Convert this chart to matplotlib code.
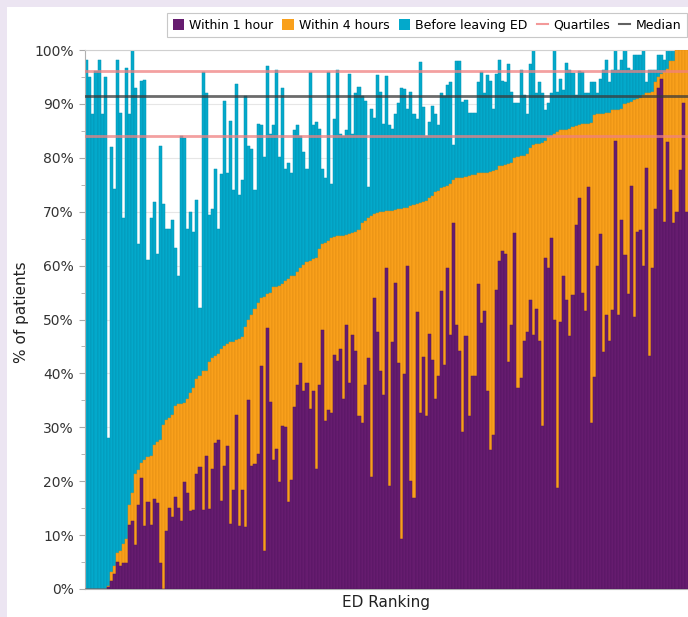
import numpy as np
import matplotlib
matplotlib.use("Agg")
import matplotlib.pyplot as plt
from matplotlib.patches import Patch
from matplotlib.lines import Line2D

# % of patients seen before leaving ED (total bar height)
before_leaving = [
    98.2, 94.9, 88.1, 96.1, 98.2, 88.1, 95.0, 28.0, 82.0, 74.2,
    98.2, 88.4, 68.9, 96.6, 88.1, 100.0, 92.9, 64.1, 94.3, 94.5,
    61.0, 68.8, 71.8, 62.1, 82.1, 71.5, 66.8, 66.8, 68.4, 63.2,
    58.1, 84.0, 83.7, 66.8, 70.0, 66.2, 72.2, 52.1, 96.0, 92.0,
    69.4, 70.5, 78.0, 66.8, 77.0, 90.5, 77.2, 86.8, 74.1, 93.7,
    73.1, 75.9, 91.5, 82.1, 81.7, 74.1, 86.3, 86.0, 80.2, 97.1,
    84.4, 86.0, 96.2, 80.2, 93.0, 78.0, 79.0, 77.1, 85.1, 86.0,
    84.0, 81.1, 78.0, 96.0, 86.0, 86.7, 85.4, 78.0, 76.3, 96.0,
    75.1, 87.2, 96.2, 84.5, 84.0, 85.2, 95.5, 84.5, 92.0, 93.2,
    91.4, 90.5, 74.6, 89.1, 87.4, 95.4, 92.2, 86.3, 95.2, 86.0,
    85.3, 88.1, 90.1, 93.0, 92.7, 89.1, 92.2, 88.1, 87.2, 97.8,
    89.4, 84.1, 86.6, 89.6, 88.1, 86.0, 92.0, 91.5, 93.5, 94.1,
    82.3, 98.0, 98.0, 90.3, 90.7, 88.3, 88.3, 88.3, 94.0, 96.0,
    92.0, 95.4, 94.2, 89.1, 95.6, 98.1, 94.3, 94.0, 97.4, 92.2,
    90.1, 90.1, 96.2, 91.6, 88.1, 97.4, 100.0, 92.0, 94.1, 92.0,
    88.9, 90.1, 92.0, 100.0, 92.2, 94.7, 92.6, 97.6, 96.3, 95.8,
    91.7, 96.1, 96.0, 92.0, 92.0, 94.0, 94.0, 92.0, 94.7, 96.2,
    98.1, 94.1, 96.2, 100.0, 96.2, 98.1, 100.0, 96.7, 96.2, 99.1,
    99.1, 99.1, 100.0, 94.1, 96.2, 96.2, 96.2, 99.1, 99.1, 98.1,
    100.0, 100.0, 100.0, 100.0, 100.0, 100.0, 100.0,
]

# % of patients seen within 4 hours (ranking variable)
within_4h = [
    0, 0, 0, 0, 0, 0, 0, 0.5, 3.1, 4.3,
    6.7, 7.1, 8.3, 9.3, 15.5, 17.9, 21.4, 22.0, 23.3, 23.9,
    24.4, 24.7, 26.7, 27.2, 27.7, 30.4, 31.4, 31.7, 32.3, 34.0,
    34.3, 34.4, 34.5, 35.3, 36.4, 37.3, 38.9, 39.6, 40.4, 40.4,
    42.2, 42.8, 43.2, 43.6, 44.5, 45.0, 45.4, 45.8, 45.9, 46.2,
    46.4, 46.7, 48.7, 49.9, 50.8, 52.0, 53.1, 53.9, 54.2, 54.8,
    54.9, 56.0, 56.0, 56.2, 56.6, 57.2, 57.6, 58.1, 58.1, 58.8,
    59.5, 60.2, 60.6, 60.8, 61.3, 61.4, 63.0, 64.0, 64.2, 64.5,
    65.2, 65.3, 65.4, 65.4, 65.5, 65.6, 65.8, 66.0, 66.3, 66.6,
    67.9, 68.3, 68.9, 69.2, 69.6, 69.8, 69.9, 70.0, 70.1, 70.2,
    70.2, 70.4, 70.5, 70.5, 70.7, 70.7, 71.1, 71.2, 71.4, 71.6,
    71.8, 72.0, 72.5, 72.9, 73.7, 73.9, 74.4, 74.6, 74.8, 75.2,
    75.9, 76.3, 76.3, 76.3, 76.4, 76.7, 76.9, 76.9, 77.1, 77.2,
    77.2, 77.2, 77.4, 77.5, 77.8, 78.4, 78.4, 78.6, 78.8, 79.1,
    80.0, 80.2, 80.3, 80.4, 80.7, 81.9, 82.3, 82.5, 82.6, 82.7,
    83.1, 83.9, 84.1, 84.4, 84.7, 85.1, 85.2, 85.2, 85.4, 85.7,
    85.9, 86.0, 86.2, 86.2, 86.3, 86.5, 88.0, 88.1, 88.1, 88.1,
    88.3, 88.3, 88.8, 88.9, 88.9, 89.1, 90.0, 90.1, 90.4, 90.7,
    90.9, 91.1, 91.7, 92.0, 92.0, 92.2, 94.1, 95.0, 95.6, 96.0,
    96.5, 98.0, 98.0, 100.0, 100.0, 100.0, 100.0,
]

# % of patients seen within 1 hour
within_1h = [
    0, 0, 0, 0, 0, 0, 0, 0.3, 1.5, 2.8,
    5.1, 4.3, 4.9, 4.9, 11.9, 12.6, 8.2, 15.6, 20.6, 11.6,
    16.1, 11.9, 16.7, 15.9, 4.8, 0.0, 10.7, 15.0, 13.3, 17.0,
    15.0, 12.7, 19.8, 17.8, 14.5, 14.7, 21.4, 22.7, 14.6, 24.7,
    14.9, 22.2, 27.0, 27.7, 16.4, 22.9, 26.6, 12.1, 18.3, 32.3,
    11.7, 18.3, 11.5, 35.0, 22.9, 23.1, 25.1, 41.3, 7.0, 48.4,
    34.7, 23.9, 25.9, 19.8, 30.2, 30.1, 16.1, 20.3, 33.8, 37.8,
    42.0, 36.8, 38.3, 33.4, 36.8, 22.2, 37.9, 48.0, 31.1, 33.2,
    32.6, 43.5, 42.3, 44.5, 35.2, 48.9, 38.3, 47.2, 44.1, 32.1,
    30.8, 37.9, 42.8, 20.7, 53.9, 47.6, 40.5, 36.0, 59.5, 19.2,
    45.8, 56.7, 41.9, 9.3, 39.9, 60.0, 20.0, 16.8, 51.3, 32.6,
    43.0, 32.1, 47.4, 42.4, 35.3, 39.6, 55.2, 41.5, 59.5, 47.1,
    67.9, 49.0, 44.1, 29.1, 46.9, 32.1, 39.6, 39.6, 56.5, 49.3,
    51.5, 36.8, 25.7, 28.6, 55.5, 60.8, 62.7, 62.1, 42.2, 49.0,
    66.0, 37.2, 39.2, 46.1, 47.6, 53.7, 47.1, 52.0, 46.1, 30.3,
    61.4, 59.5, 65.2, 49.9, 18.7, 49.5, 58.0, 53.6, 46.9, 54.6,
    67.6, 72.5, 54.9, 51.6, 74.6, 30.8, 39.4, 60.0, 65.8, 44.0,
    50.8, 46.0, 51.8, 83.1, 50.8, 68.4, 61.9, 54.7, 74.8, 50.5,
    66.2, 66.6, 60.0, 78.2, 43.2, 59.5, 70.5, 93.0, 94.7, 68.1,
    82.9, 74.0, 67.9, 69.9, 77.7, 90.1, 69.9,
]

quartile_values = [84.0, 96.1]
median_value = 91.5

yticks = list(range(0, 101, 10))
ytick_labels = [f"{v}%" for v in yticks]

C_PURPLE = "#661c6f"
C_ORANGE = "#f9a01b"
C_BLUE = "#03a9cb"
C_QUART = "#f08080"
C_MED = "#3a3a3a"

W, H = 688, 617
fig = plt.figure(figsize=(W / 100, H / 100), dpi=100)
fig.patch.set_facecolor("#ece5f2")
bg = fig.add_axes([7 / W, 0, 1 - 7 / W, (H - 7) / H], zorder=0)
bg.set_facecolor("white")
bg.set_xticks([])
bg.set_yticks([])
for s in bg.spines.values():
    s.set_visible(False)

left, right = 85 / W, 688 / W
bottom, top = (H - 589) / H, (H - 50) / H
ax = fig.add_axes([left, bottom, right - left, top - bottom], zorder=2)
ax.set_facecolor("white")

n = len(before_leaving)
x = np.arange(n)
ax.bar(x, before_leaving, width=1.0, color=C_BLUE, edgecolor="#0392b2", linewidth=0.35, zorder=2)
ax.bar(x, within_4h, width=1.0, color=C_ORANGE, edgecolor="#e08a10", linewidth=0.35, zorder=3)
ax.bar(x, within_1h, width=1.0, color=C_PURPLE, edgecolor="#541560", linewidth=0.35, zorder=4)

for q in quartile_values:
    ax.axhline(q, color=C_QUART, lw=2.0, alpha=0.75, zorder=5)
ax.axhline(median_value, color=C_MED, lw=2.0, alpha=0.75, zorder=5)

ax.set_xlim(-0.6, n - 0.4)
ax.set_ylim(0, 100)
ax.set_yticks(yticks)
ax.set_yticklabels(ytick_labels, fontsize=10, color="#333333")
ax.set_yticks(range(5, 100, 10), minor=True)
ax.tick_params(axis="y", which="major", length=4, color="#aaaaaa", pad=4)
ax.tick_params(axis="y", which="minor", length=3, color="#aaaaaa")
ax.set_xticks([])
ax.grid(axis="y", which="major", color="#e6e6e6", lw=0.8, zorder=0)
ax.set_axisbelow(True)
ax.spines["right"].set_visible(False)
ax.spines["top"].set_color("#d0d0d0")
ax.spines["left"].set_color("#b0b0b0")
ax.spines["bottom"].set_color("#b0b0b0")

fig.text(22 / W, (H - 312) / H, "% of patients", rotation=90, ha="center", va="center",
         fontsize=11, color="#222222", zorder=3)
fig.text(386 / W, (H - 603) / H, "ED Ranking", ha="center", va="center",
         fontsize=11, color="#222222", zorder=3)

handles = [
    Patch(facecolor=C_PURPLE, edgecolor="none"),
    Patch(facecolor=C_ORANGE, edgecolor="none"),
    Patch(facecolor=C_BLUE, edgecolor="none"),
    Line2D([0], [0], color=C_QUART, lw=1.5, alpha=0.8),
    Line2D([0], [0], color=C_MED, lw=1.5, alpha=0.8),
]
labels = ["Within 1 hour", "Within 4 hours", "Before leaving ED", "Quartiles", "Median"]
leg = fig.legend(handles, labels, loc="upper right", bbox_to_anchor=(687 / W, (H - 13) / H),
                 ncol=5, fontsize=9.0, frameon=True, fancybox=False, framealpha=1,
                 edgecolor="#c8c8c8", handlelength=0.9, handleheight=0.9,
                 handletextpad=0.45, columnspacing=0.7, borderpad=0.45, borderaxespad=0)
leg.get_frame().set_linewidth(0.8)
leg.set_zorder(5)

fig.savefig("out.png", dpi=100, facecolor=fig.get_facecolor())
